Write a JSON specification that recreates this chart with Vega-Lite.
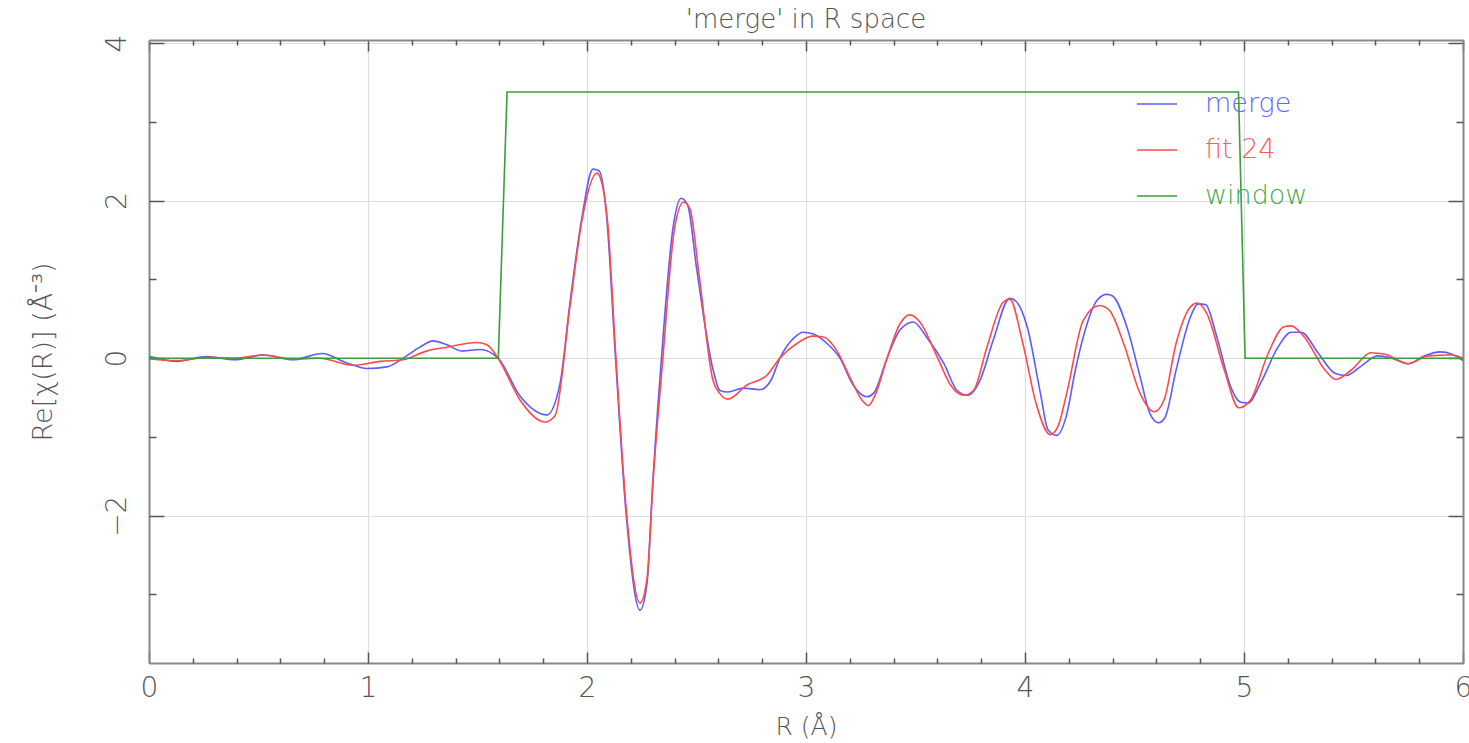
{
  "$schema": "https://vega.github.io/schema/vega-lite/v6.json",
  "width": 1314,
  "height": 623,
  "autosize": "none",
  "padding": {"left": 149, "top": 40, "right": 6, "bottom": 80},
  "background": "white",
  "title": {"text": "'merge' in R space", "fontSize": 26, "font": "DejaVu Sans", "fontWeight": 200, "color": "#555555", "offset": 1},
  "config": {
    "view": {"stroke": null},
    "axis": {"labelFont": "DejaVu Sans", "titleFont": "DejaVu Sans", "labelColor": "#555555", "titleColor": "#555555", "labelFontWeight": 200, "titleFontWeight": 200}
  },
  "datasets": {
    "curves": [
      {"R": 0.005, "chi": 0.02, "series": "merge"},
      {"R": 0.127, "chi": -0.04, "series": "merge"},
      {"R": 0.263, "chi": 0.02, "series": "merge"},
      {"R": 0.393, "chi": -0.02, "series": "merge"},
      {"R": 0.52, "chi": 0.04, "series": "merge"},
      {"R": 0.658, "chi": -0.02, "series": "merge"},
      {"R": 0.79, "chi": 0.06, "series": "merge"},
      {"R": 0.903, "chi": -0.06, "series": "merge"},
      {"R": 0.995, "chi": -0.13, "series": "merge"},
      {"R": 1.087, "chi": -0.11, "series": "merge"},
      {"R": 1.16, "chi": 0.0, "series": "merge"},
      {"R": 1.237, "chi": 0.14, "series": "merge"},
      {"R": 1.297, "chi": 0.22, "series": "merge"},
      {"R": 1.36, "chi": 0.17, "series": "merge"},
      {"R": 1.43, "chi": 0.09, "series": "merge"},
      {"R": 1.511, "chi": 0.11, "series": "merge"},
      {"R": 1.594, "chi": 0.0, "series": "merge"},
      {"R": 1.694, "chi": -0.48, "series": "merge"},
      {"R": 1.817, "chi": -0.72, "series": "merge"},
      {"R": 1.877, "chi": -0.32, "series": "merge"},
      {"R": 1.922, "chi": 0.7, "series": "merge"},
      {"R": 1.977, "chi": 1.79, "series": "merge"},
      {"R": 2.027, "chi": 2.4, "series": "merge"},
      {"R": 2.055, "chi": 2.38, "series": "merge"},
      {"R": 2.09, "chi": 1.79, "series": "merge"},
      {"R": 2.128, "chi": 0.1, "series": "merge"},
      {"R": 2.18, "chi": -2.02, "series": "merge"},
      {"R": 2.242, "chi": -3.2, "series": "merge"},
      {"R": 2.274, "chi": -2.86, "series": "merge"},
      {"R": 2.3, "chi": -1.59, "series": "merge"},
      {"R": 2.34, "chi": 0.0, "series": "merge"},
      {"R": 2.393, "chi": 1.66, "series": "merge"},
      {"R": 2.43, "chi": 2.03, "series": "merge"},
      {"R": 2.46, "chi": 1.94, "series": "merge"},
      {"R": 2.5, "chi": 1.15, "series": "merge"},
      {"R": 2.576, "chi": -0.15, "series": "merge"},
      {"R": 2.607, "chi": -0.41, "series": "merge"},
      {"R": 2.644, "chi": -0.43, "series": "merge"},
      {"R": 2.713, "chi": -0.38, "series": "merge"},
      {"R": 2.79, "chi": -0.4, "series": "merge"},
      {"R": 2.84, "chi": -0.28, "series": "merge"},
      {"R": 2.881, "chi": 0.0, "series": "merge"},
      {"R": 2.95, "chi": 0.27, "series": "merge"},
      {"R": 2.986, "chi": 0.33, "series": "merge"},
      {"R": 3.03, "chi": 0.31, "series": "merge"},
      {"R": 3.095, "chi": 0.19, "series": "merge"},
      {"R": 3.155, "chi": 0.0, "series": "merge"},
      {"R": 3.215, "chi": -0.34, "series": "merge"},
      {"R": 3.278, "chi": -0.49, "series": "merge"},
      {"R": 3.31, "chi": -0.44, "series": "merge"},
      {"R": 3.37, "chi": 0.0, "series": "merge"},
      {"R": 3.43, "chi": 0.36, "series": "merge"},
      {"R": 3.49, "chi": 0.46, "series": "merge"},
      {"R": 3.55, "chi": 0.27, "series": "merge"},
      {"R": 3.63, "chi": -0.07, "series": "merge"},
      {"R": 3.69, "chi": -0.41, "series": "merge"},
      {"R": 3.74, "chi": -0.47, "series": "merge"},
      {"R": 3.795, "chi": -0.28, "series": "merge"},
      {"R": 3.855, "chi": 0.23, "series": "merge"},
      {"R": 3.93, "chi": 0.76, "series": "merge"},
      {"R": 3.96, "chi": 0.72, "series": "merge"},
      {"R": 4.01, "chi": 0.4, "series": "merge"},
      {"R": 4.07, "chi": -0.44, "series": "merge"},
      {"R": 4.105, "chi": -0.91, "series": "merge"},
      {"R": 4.145, "chi": -0.98, "series": "merge"},
      {"R": 4.19, "chi": -0.72, "series": "merge"},
      {"R": 4.23, "chi": -0.15, "series": "merge"},
      {"R": 4.266, "chi": 0.27, "series": "merge"},
      {"R": 4.33, "chi": 0.74, "series": "merge"},
      {"R": 4.375, "chi": 0.81, "series": "merge"},
      {"R": 4.4, "chi": 0.79, "series": "merge"},
      {"R": 4.466, "chi": 0.39, "series": "merge"},
      {"R": 4.526, "chi": -0.24, "series": "merge"},
      {"R": 4.57, "chi": -0.7, "series": "merge"},
      {"R": 4.61, "chi": -0.82, "series": "merge"},
      {"R": 4.64, "chi": -0.75, "series": "merge"},
      {"R": 4.69, "chi": -0.15, "series": "merge"},
      {"R": 4.755, "chi": 0.52, "series": "merge"},
      {"R": 4.79, "chi": 0.69, "series": "merge"},
      {"R": 4.825, "chi": 0.68, "series": "merge"},
      {"R": 4.876, "chi": 0.27, "series": "merge"},
      {"R": 4.94, "chi": -0.37, "series": "merge"},
      {"R": 4.985, "chi": -0.56, "series": "merge"},
      {"R": 5.018, "chi": -0.57, "series": "merge"},
      {"R": 5.077, "chi": -0.31, "series": "merge"},
      {"R": 5.155, "chi": 0.14, "series": "merge"},
      {"R": 5.215, "chi": 0.33, "series": "merge"},
      {"R": 5.26, "chi": 0.33, "series": "merge"},
      {"R": 5.34, "chi": 0.06, "series": "merge"},
      {"R": 5.415, "chi": -0.19, "series": "merge"},
      {"R": 5.467, "chi": -0.22, "series": "merge"},
      {"R": 5.535, "chi": -0.1, "series": "merge"},
      {"R": 5.61, "chi": 0.03, "series": "merge"},
      {"R": 5.675, "chi": 0.0, "series": "merge"},
      {"R": 5.75, "chi": -0.07, "series": "merge"},
      {"R": 5.825, "chi": 0.03, "series": "merge"},
      {"R": 5.895, "chi": 0.08, "series": "merge"},
      {"R": 5.95, "chi": 0.05, "series": "merge"},
      {"R": 6.0, "chi": -0.03, "series": "merge"},
      {"R": 0.005, "chi": -0.01, "series": "fit 24"},
      {"R": 0.127, "chi": -0.03, "series": "fit 24"},
      {"R": 0.263, "chi": 0.01, "series": "fit 24"},
      {"R": 0.393, "chi": 0.0, "series": "fit 24"},
      {"R": 0.52, "chi": 0.04, "series": "fit 24"},
      {"R": 0.658, "chi": -0.01, "series": "fit 24"},
      {"R": 0.78, "chi": 0.0, "series": "fit 24"},
      {"R": 0.93, "chi": -0.09, "series": "fit 24"},
      {"R": 1.055, "chi": -0.04, "series": "fit 24"},
      {"R": 1.16, "chi": -0.02, "series": "fit 24"},
      {"R": 1.267, "chi": 0.09, "series": "fit 24"},
      {"R": 1.36, "chi": 0.14, "series": "fit 24"},
      {"R": 1.497, "chi": 0.2, "series": "fit 24"},
      {"R": 1.543, "chi": 0.17, "series": "fit 24"},
      {"R": 1.594, "chi": 0.0, "series": "fit 24"},
      {"R": 1.694, "chi": -0.53, "series": "fit 24"},
      {"R": 1.808, "chi": -0.81, "series": "fit 24"},
      {"R": 1.854, "chi": -0.73, "series": "fit 24"},
      {"R": 1.922, "chi": 0.65, "series": "fit 24"},
      {"R": 1.977, "chi": 1.75, "series": "fit 24"},
      {"R": 2.045, "chi": 2.35, "series": "fit 24"},
      {"R": 2.07, "chi": 2.2, "series": "fit 24"},
      {"R": 2.095, "chi": 1.7, "series": "fit 24"},
      {"R": 2.13, "chi": 0.1, "series": "fit 24"},
      {"R": 2.18, "chi": -1.95, "series": "fit 24"},
      {"R": 2.242, "chi": -3.11, "series": "fit 24"},
      {"R": 2.274, "chi": -2.8, "series": "fit 24"},
      {"R": 2.302, "chi": -1.55, "series": "fit 24"},
      {"R": 2.345, "chi": -0.05, "series": "fit 24"},
      {"R": 2.4, "chi": 1.65, "series": "fit 24"},
      {"R": 2.44, "chi": 1.98, "series": "fit 24"},
      {"R": 2.47, "chi": 1.9, "series": "fit 24"},
      {"R": 2.51, "chi": 1.1, "series": "fit 24"},
      {"R": 2.575, "chi": -0.28, "series": "fit 24"},
      {"R": 2.607, "chi": -0.45, "series": "fit 24"},
      {"R": 2.644, "chi": -0.52, "series": "fit 24"},
      {"R": 2.73, "chi": -0.34, "series": "fit 24"},
      {"R": 2.82, "chi": -0.22, "series": "fit 24"},
      {"R": 2.88, "chi": 0.0, "series": "fit 24"},
      {"R": 2.96, "chi": 0.19, "series": "fit 24"},
      {"R": 3.03, "chi": 0.28, "series": "fit 24"},
      {"R": 3.08, "chi": 0.27, "series": "fit 24"},
      {"R": 3.14, "chi": 0.1, "series": "fit 24"},
      {"R": 3.2, "chi": -0.24, "series": "fit 24"},
      {"R": 3.255, "chi": -0.53, "series": "fit 24"},
      {"R": 3.285, "chi": -0.6, "series": "fit 24"},
      {"R": 3.32, "chi": -0.44, "series": "fit 24"},
      {"R": 3.37, "chi": 0.0, "series": "fit 24"},
      {"R": 3.43, "chi": 0.44, "series": "fit 24"},
      {"R": 3.475, "chi": 0.55, "series": "fit 24"},
      {"R": 3.52, "chi": 0.46, "series": "fit 24"},
      {"R": 3.6, "chi": 0.01, "series": "fit 24"},
      {"R": 3.66, "chi": -0.34, "series": "fit 24"},
      {"R": 3.72, "chi": -0.47, "series": "fit 24"},
      {"R": 3.765, "chi": -0.41, "series": "fit 24"},
      {"R": 3.826, "chi": 0.14, "series": "fit 24"},
      {"R": 3.9, "chi": 0.71, "series": "fit 24"},
      {"R": 3.93, "chi": 0.75, "series": "fit 24"},
      {"R": 3.99, "chi": 0.19, "series": "fit 24"},
      {"R": 4.05, "chi": -0.57, "series": "fit 24"},
      {"R": 4.115, "chi": -0.97, "series": "fit 24"},
      {"R": 4.15, "chi": -0.87, "series": "fit 24"},
      {"R": 4.19, "chi": -0.45, "series": "fit 24"},
      {"R": 4.266, "chi": 0.48, "series": "fit 24"},
      {"R": 4.34, "chi": 0.67, "series": "fit 24"},
      {"R": 4.385, "chi": 0.61, "series": "fit 24"},
      {"R": 4.45, "chi": 0.19, "series": "fit 24"},
      {"R": 4.526, "chi": -0.45, "series": "fit 24"},
      {"R": 4.59, "chi": -0.68, "series": "fit 24"},
      {"R": 4.635, "chi": -0.53, "series": "fit 24"},
      {"R": 4.69, "chi": 0.19, "series": "fit 24"},
      {"R": 4.755, "chi": 0.65, "series": "fit 24"},
      {"R": 4.786, "chi": 0.7, "series": "fit 24"},
      {"R": 4.83, "chi": 0.57, "series": "fit 24"},
      {"R": 4.91, "chi": -0.15, "series": "fit 24"},
      {"R": 4.976, "chi": -0.63, "series": "fit 24"},
      {"R": 5.03, "chi": -0.53, "series": "fit 24"},
      {"R": 5.11, "chi": 0.06, "series": "fit 24"},
      {"R": 5.183, "chi": 0.4, "series": "fit 24"},
      {"R": 5.215, "chi": 0.41, "series": "fit 24"},
      {"R": 5.275, "chi": 0.27, "series": "fit 24"},
      {"R": 5.37, "chi": -0.15, "series": "fit 24"},
      {"R": 5.42, "chi": -0.27, "series": "fit 24"},
      {"R": 5.49, "chi": -0.15, "series": "fit 24"},
      {"R": 5.58, "chi": 0.07, "series": "fit 24"},
      {"R": 5.645, "chi": 0.05, "series": "fit 24"},
      {"R": 5.75, "chi": -0.07, "series": "fit 24"},
      {"R": 5.84, "chi": 0.03, "series": "fit 24"},
      {"R": 5.95, "chi": 0.04, "series": "fit 24"},
      {"R": 6.0, "chi": 0.0, "series": "fit 24"}
    ],
    "win": [
      {"R": 0.0, "chi": 0.0, "series": "window"},
      {"R": 1.595, "chi": 0.0, "series": "window"},
      {"R": 1.635, "chi": 3.38, "series": "window"},
      {"R": 4.975, "chi": 3.38, "series": "window"},
      {"R": 5.005, "chi": 0.0, "series": "window"},
      {"R": 6.0, "chi": 0.0, "series": "window"}
    ]
  },
  "resolve": {"axis": {"x": "independent", "y": "independent"}},
  "layer": [
    {
      "data": {"name": "curves"},
      "mark": {"type": "line", "interpolate": "monotone", "strokeWidth": 1.6, "clip": true},
      "encoding": {
        "x": {"field": "R", "type": "quantitative", "scale": {"domain": [0, 6], "nice": false, "zero": false},
          "axis": {"orient": "bottom", "values": [0, 1, 2, 3, 4, 5, 6], "grid": true, "gridColor": "#dddddd", "gridWidth": 1.2, "ticks": false, "domain": true, "domainColor": "#888888", "domainWidth": 2, "labelFontSize": 28, "labelPadding": 11, "labelFlush": false, "title": "R (Å)", "titleFontSize": 25, "titlePadding": 12}},
        "y": {"field": "chi", "type": "quantitative", "scale": {"domain": [-3.87, 4.04], "nice": false, "zero": false},
          "axis": {"orient": "left", "values": [-2, 0, 2, 4], "grid": true, "gridColor": "#dddddd", "gridWidth": 1.2, "ticks": false, "domain": true, "domainColor": "#888888", "domainWidth": 2, "labelFontSize": 28, "labelAngle": -90, "labelAlign": "center", "labelBaseline": "bottom", "labelPadding": 18, "title": "Re[χ(R)] (Å⁻³)", "titleFontSize": 27, "titlePadding": 46}},
        "color": {"field": "series", "type": "nominal", "sort": null,
          "scale": {"domain": ["merge", "fit 24", "window"], "range": ["#5c5cff", "#ff4a4a", "#3a9e3a"]},
          "legend": {"orient": "none", "legendX": 987, "legendY": 43, "title": null, "padding": 0, "symbolType": "stroke", "symbolSize": 1600, "symbolStrokeWidth": 1.5, "labelFontSize": 27, "labelFont": "DejaVu Sans", "labelFontWeight": 200, "labelOffset": 27, "rowPadding": 12,
            "encode": {"labels": {"update": {"fill": {"signal": "datum.label === 'merge' ? '#6464ff' : datum.label === 'fit 24' ? '#ff5a5a' : '#46a846'"}}}}}}
      }
    },
    {
      "data": {"name": "win"},
      "mark": {"type": "line", "strokeWidth": 1.6},
      "encoding": {
        "x": {"field": "R", "type": "quantitative", "axis": {"orient": "bottom", "values": [0, 1, 2, 3, 4, 5, 6], "grid": false, "labels": false, "domain": false, "ticks": true, "tickSize": -11, "tickWidth": 1.5, "tickColor": "#555555", "title": null}},
        "y": {"field": "chi", "type": "quantitative", "axis": {"orient": "left", "values": [-2, 0, 2, 4], "grid": false, "labels": false, "domain": false, "ticks": true, "tickSize": -15, "tickWidth": 1.5, "tickColor": "#555555", "title": null}},
        "color": {"field": "series", "type": "nominal", "sort": null}
      }
    },
    {
      "data": {"name": "win"},
      "mark": {"type": "line", "opacity": 0},
      "encoding": {
        "x": {"field": "R", "type": "quantitative", "axis": {"orient": "bottom", "values": [0.2, 0.4, 0.6, 0.8, 1.2, 1.4, 1.6, 1.8, 2.2, 2.4, 2.6, 2.8, 3.2, 3.4, 3.6, 3.8, 4.2, 4.4, 4.6, 4.8, 5.2, 5.4, 5.6, 5.8], "grid": false, "labels": false, "domain": false, "ticks": true, "tickSize": -5, "tickWidth": 1.5, "tickColor": "#555555", "title": null}},
        "y": {"field": "chi", "type": "quantitative", "axis": {"orient": "left", "values": [-3, -1, 1, 3], "grid": false, "labels": false, "domain": false, "ticks": true, "tickSize": -7, "tickWidth": 1.5, "tickColor": "#555555", "title": null}}
      }
    },
    {
      "data": {"name": "win"},
      "mark": {"type": "line", "opacity": 0},
      "encoding": {
        "x": {"field": "R", "type": "quantitative", "axis": {"orient": "top", "values": [0, 1, 2, 3, 4, 5, 6], "grid": false, "labels": false, "domain": true, "domainColor": "#888888", "domainWidth": 2, "ticks": true, "tickSize": -11, "tickWidth": 1.5, "tickColor": "#555555", "title": null}},
        "y": {"field": "chi", "type": "quantitative", "axis": {"orient": "right", "values": [-2, 0, 2, 4], "grid": false, "labels": false, "domain": true, "domainColor": "#888888", "domainWidth": 2, "ticks": true, "tickSize": -15, "tickWidth": 1.5, "tickColor": "#555555", "title": null}}
      }
    },
    {
      "data": {"name": "win"},
      "mark": {"type": "line", "opacity": 0},
      "encoding": {
        "x": {"field": "R", "type": "quantitative", "axis": {"orient": "top", "values": [0.2, 0.4, 0.6, 0.8, 1.2, 1.4, 1.6, 1.8, 2.2, 2.4, 2.6, 2.8, 3.2, 3.4, 3.6, 3.8, 4.2, 4.4, 4.6, 4.8, 5.2, 5.4, 5.6, 5.8], "grid": false, "labels": false, "domain": false, "ticks": true, "tickSize": -5, "tickWidth": 1.5, "tickColor": "#555555", "title": null}},
        "y": {"field": "chi", "type": "quantitative", "axis": {"orient": "right", "values": [-3, -1, 1, 3], "grid": false, "labels": false, "domain": false, "ticks": true, "tickSize": -7, "tickWidth": 1.5, "tickColor": "#555555", "title": null}}
      }
    }
  ]
}
